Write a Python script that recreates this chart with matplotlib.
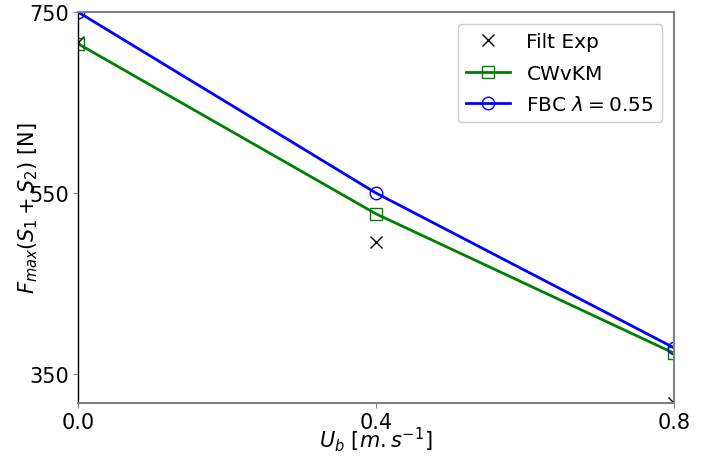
import matplotlib
matplotlib.use("Agg")
import matplotlib.pyplot as plt

ub = [0.0, 0.4, 0.8]
filt_exp = [717, 496, 318]
cwvkm = [715, 527, 373]
fbc = [750, 550, 379]

xticks = [0.0, 0.4, 0.8]
yticks = [350, 550, 750]

fig = plt.figure(figsize=(7.11, 4.6), dpi=100)
ax = fig.add_axes([0.1097, 0.1217, 0.8383, 0.85])

ax.plot(ub, filt_exp, linestyle='none', marker='x', color='black', markersize=9,
        markeredgewidth=1.0, label='Filt Exp', clip_on=True)
ax.plot(ub, cwvkm, color='green', linewidth=2, marker='s', markersize=9,
        markerfacecolor='none', markeredgewidth=1.0, label='CWvKM')
ax.plot(ub, fbc, color='blue', linewidth=2, marker='o', markersize=9,
        markerfacecolor='none', markeredgewidth=1.0, label=r'FBC $\lambda = 0.55$')

ax.set_xlim(0.0, 0.8)
ax.set_ylim(318, 750)
ax.set_xticks(xticks)
ax.set_xticklabels(['0.0', '0.4', '0.8'])
ax.set_yticks(yticks)
ax.tick_params(labelsize=15, length=3.5, width=0.8, colors='gray', labelcolor='black', pad=3)
ax.set_xlabel(r'$U_b\ [m.s^{-1}]$', fontsize=15, labelpad=-6)
ax.set_ylabel(r'$F_{max}(S_1+S_2)$ [N]', fontsize=15, labelpad=-8)

for s in ['top', 'right', 'bottom']:
    ax.spines[s].set_color('gray')
    ax.spines[s].set_linewidth(1.5)
ax.spines['left'].set_color('black')
ax.spines['left'].set_linewidth(1.0)

ax.legend(loc='upper right', fontsize=14.5, framealpha=1, handlelength=2.2,
          labelspacing=0.62, borderaxespad=0.6)

fig.savefig('out.png', dpi=100)
